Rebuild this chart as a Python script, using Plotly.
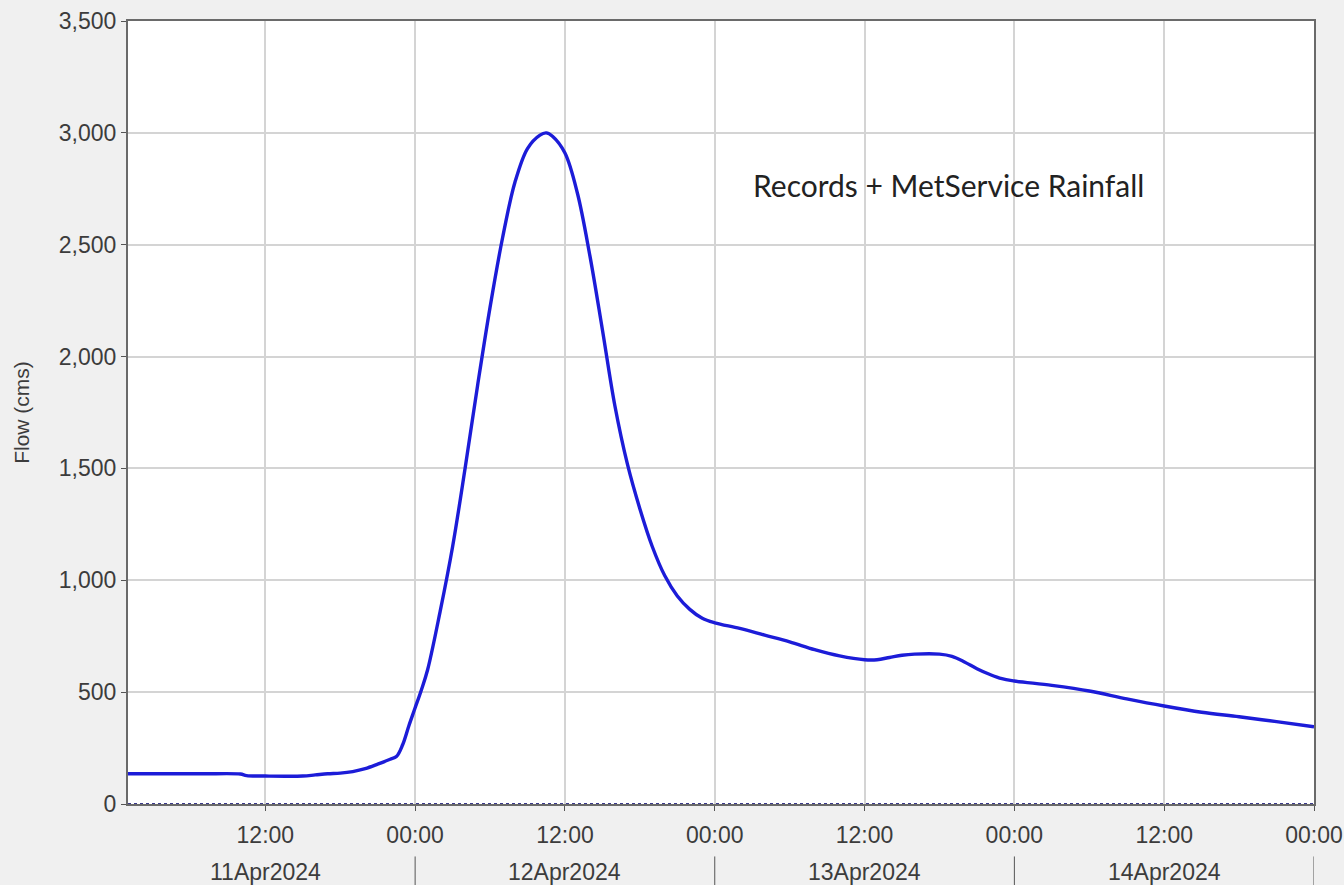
import plotly.graph_objects as go

times = [
    "2024-04-11 01:00", "2024-04-11 04:00", "2024-04-11 07:00", "2024-04-11 10:00", "2024-04-11 10:30",
    "2024-04-11 12:00", "2024-04-11 15:00", "2024-04-11 16:00", "2024-04-11 17:00", "2024-04-11 18:00",
    "2024-04-11 19:00", "2024-04-11 20:00", "2024-04-11 21:00", "2024-04-11 22:00", "2024-04-11 22:30",
    "2024-04-11 23:00", "2024-04-11 23:30",
    "2024-04-12 00:00", "2024-04-12 00:30", "2024-04-12 01:00", "2024-04-12 02:00", "2024-04-12 03:00",
    "2024-04-12 04:00", "2024-04-12 05:00", "2024-04-12 06:00", "2024-04-12 07:00", "2024-04-12 08:00",
    "2024-04-12 09:00", "2024-04-12 10:00", "2024-04-12 10:30", "2024-04-12 11:00", "2024-04-12 12:00",
    "2024-04-12 13:00", "2024-04-12 14:00", "2024-04-12 15:00", "2024-04-12 16:00", "2024-04-12 17:00",
    "2024-04-12 18:00", "2024-04-12 19:00", "2024-04-12 20:00", "2024-04-12 21:00", "2024-04-12 22:00",
    "2024-04-12 23:00",
    "2024-04-13 00:00", "2024-04-13 02:00", "2024-04-13 04:00", "2024-04-13 06:00", "2024-04-13 08:00",
    "2024-04-13 10:00", "2024-04-13 12:00", "2024-04-13 13:00", "2024-04-13 14:00", "2024-04-13 15:00",
    "2024-04-13 16:00", "2024-04-13 18:00", "2024-04-13 19:00", "2024-04-13 20:00", "2024-04-13 21:00",
    "2024-04-13 22:00", "2024-04-13 23:00",
    "2024-04-14 00:00", "2024-04-14 03:00", "2024-04-14 06:00", "2024-04-14 09:00", "2024-04-14 12:00",
    "2024-04-14 15:00", "2024-04-14 18:00", "2024-04-14 21:00", "2024-04-15 00:00",
]
flow = [
    135, 135, 135, 134, 127,
    125, 125, 130, 135, 138,
    145, 158, 178, 200, 212,
    265, 350,
    430, 510, 600, 860, 1150,
    1500, 1870, 2220, 2530, 2780,
    2930, 2990, 3000, 2985, 2910,
    2730, 2450, 2120, 1780, 1520,
    1320, 1150, 1020, 930, 870,
    830,
    810, 785, 755, 725, 690,
    662, 645, 645, 655, 665,
    670, 670, 660, 635, 605,
    580, 560,
    550, 530, 505, 470, 438,
    410, 390, 368, 345,
]
rain_times = ["2024-04-11 01:00", "2024-04-15 00:00"]
rain = [0, 0]

time_tickvals = ["2024-04-11 12:00", "2024-04-12 00:00", "2024-04-12 12:00", "2024-04-13 00:00",
                 "2024-04-13 12:00", "2024-04-14 00:00", "2024-04-14 12:00", "2024-04-15 00:00"]
time_ticktext = ["12:00", "00:00", "12:00", "00:00", "12:00", "00:00", "12:00", "00:00"]
day_centers = ["2024-04-11 12:00", "2024-04-12 12:00", "2024-04-13 12:00", "2024-04-14 12:00"]
day_labels = ["11Apr2024", "12Apr2024", "13Apr2024", "14Apr2024"]
day_breaks = ["2024-04-12 00:00", "2024-04-13 00:00", "2024-04-14 00:00", "2024-04-15 00:00"]
y_ticks = [0, 500, 1000, 1500, 2000, 2500, 3000, 3500]

fig = go.Figure()
fig.add_trace(go.Scatter(x=rain_times, y=rain, mode="lines",
                         line=dict(color="#3a3a8a", width=2, dash="dot"), showlegend=False))
fig.add_trace(go.Scatter(x=times, y=flow, mode="lines", line_shape="spline",
                         line=dict(color="#1c1cd8", width=3.4), showlegend=False))

font_ax = dict(family="Liberation Sans, Arial", size=23, color="#3c3c3c")

for c, lab in zip(day_centers, day_labels):
    fig.add_annotation(x=c, y=-0.087, xref="x", yref="paper", text=lab, showarrow=False,
                       font=font_ax, xanchor="center", yanchor="middle")
for b in day_breaks:
    fig.add_shape(type="line", xref="x", yref="paper", x0=b, x1=b, y0=-0.067, y1=-0.11,
                  line=dict(color="#555555", width=1))

fig.add_annotation(x=0.692, y=0.79, xref="paper", yref="paper",
                   text="Records + MetService Rainfall", showarrow=False,
                   xanchor="center", yanchor="middle",
                   font=dict(family="Lato, Open Sans", size=30, color="#222222"))

fig.update_layout(
    width=1344, height=885,
    margin=dict(l=128, r=30, t=21, b=81),
    paper_bgcolor="#f0f0f0", plot_bgcolor="#ffffff",
    xaxis=dict(range=["2024-04-11 01:00", "2024-04-15 00:00"], tickvals=time_tickvals,
               ticktext=time_ticktext, showgrid=True, gridcolor="#d4d4d4", gridwidth=1.5,
               ticks="outside", ticklen=5, tickcolor="#555555", tickfont=font_ax,
               ticklabelstandoff=4, automargin=False,
               showline=True, linecolor="#6a6a6a", linewidth=2, mirror=True, zeroline=False),
    yaxis=dict(range=[0, 3500], tickvals=y_ticks, tickformat=",", showgrid=True,
               gridcolor="#d4d4d4", gridwidth=1.5, ticks="outside", ticklen=5, tickcolor="#555555",
               tickfont=font_ax, showline=True, linecolor="#6a6a6a", linewidth=2, mirror=True,
               zeroline=False, automargin=False,
               title=dict(text="Flow (cms)", font=dict(family="Liberation Sans, Arial", size=21,
                                                       color="#3c3c3c"), standoff=23)),
)

fig.write_html("out.html", config={"displayModeBar": False},
               post_script="document.body.style.margin='0';document.body.style.overflow='hidden';")
